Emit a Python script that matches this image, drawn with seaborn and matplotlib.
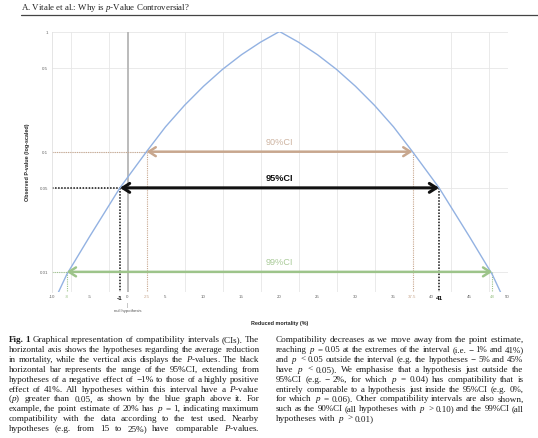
import matplotlib
matplotlib.use("Agg")
import matplotlib.pyplot as plt
import seaborn as sns
import numpy as np
from matplotlib.lines import Line2D
from matplotlib.ticker import MultipleLocator, NullLocator

# ---------------- data ----------------
curve_x = [-10, -8, -5, -1, 2.5, 5, 7.5, 10, 12.5, 15, 17.5, 20,
           22.5, 25, 27.5, 30, 32.5, 35, 37.5, 41, 45, 48, 50]
curve_p = [0.0051, 0.0095, 0.0196, 0.05, 0.10, 0.161, 0.243, 0.350, 0.484, 0.641, 0.815, 1.0,
           0.815, 0.641, 0.484, 0.350, 0.243, 0.161, 0.10, 0.05, 0.0196, 0.0095, 0.0051]

ci_labels = ["90%CI", "95%CI", "99%CI"]
ci_lower = [2.5, -1, -8]
ci_upper = [37.5, 41, 48]
ci_p = [0.10, 0.05, 0.01]

x_ticks = [-10, -8, -5, -1, 0, 2.5, 5, 10, 15, 20, 25, 30, 35, 37.5, 40, 41, 45, 48, 50]
x_tick_labels = ["-10", "-8", "-5", "-1", "0", "2.5", "5", "10", "15", "20", "25", "30",
                 "35", "37.5", "40", "41", "45", "48", "50"]
y_ticks = [0.01, 0.05, 0.1, 0.5, 1]
y_tick_labels = ["0.01", "0.05", "0.1", "0.5", "1"]

header = "A. Vitale et al.: Why is $p$-Value Controversial?"
caption_left = [
    "Fig. 1 Graphical representation of compatibility intervals (CIs). The",
    "horizontal axis shows the hypotheses regarding the average reduction",
    "in mortality, while the vertical axis displays the $P$-values. The black",
    "horizontal bar represents the range of the 95%CI, extending from",
    "hypotheses of a negative effect of \u22121% to those of a highly positive",
    "effect of 41%. All hypotheses within this interval have a $P$-value",
    "($p$) greater than 0.05, as shown by the blue graph above it. For",
    "example, the point estimate of 20% has $p$ = 1, indicating maximum",
    "compatibility with the data according to the test used. Nearby",
    "hypotheses (e.g. from 15 to 25%) have comparable $P$-values.",
]
caption_right = [
    "Compatibility decreases as we move away from the point estimate,",
    "reaching $p$ = 0.05 at the extremes of the interval (i.e. \u2212 1% and 41%)",
    "and $p$ < 0.05 outside the interval (e.g. the hypotheses \u2212 5% and 45%",
    "have $p$ < 0.05). We emphasise that a hypothesis just outside the",
    "95%CI (e.g. \u2212 2%, for which $p$ = 0.04) has compatibility that is",
    "entirely comparable to a hypothesis just inside the 95%CI (e.g. 0%,",
    "for which $p$ = 0.06). Other compatibility intervals are also shown,",
    "such as the 90%CI (all hypotheses with $p$ > 0.10) and the 99%CI (all",
    "hypotheses with $p$ > 0.01)",
]

# ---------------- styles ----------------
W, H = 538, 439
sns.set_style("white")
plt.rcParams["font.family"] = ["Liberation Sans", "DejaVu Sans"]
plt.rcParams["mathtext.fontset"] = "custom"
plt.rcParams["mathtext.rm"] = "Liberation Serif"
plt.rcParams["mathtext.it"] = "Liberation Serif:italic"
plt.rcParams["mathtext.bf"] = "Liberation Serif:bold"

ci_colors = ["#c8a78e", "#111111", "#9dc48a"]
ci_text_colors = ["#cdb3a0", "#111111", "#aacb99"]
ci_lw = [1.8, 2.2, 1.8]
curve_color = "#93b2e2"

fig = plt.figure(figsize=(W / 100, H / 100), dpi=100)
fig.patch.set_facecolor("white")

left_px, right_px, top_px, bot_px = 51.5, 507.5, 32.5, 293
ax = fig.add_axes([left_px / W, 1 - bot_px / H, (right_px - left_px) / W, (bot_px - top_px) / H])
ax.set_yscale("log")
ax.set_xlim(-10, 50)
ax.set_ylim(0.0068, 1.0)

# grid
ax.xaxis.set_minor_locator(MultipleLocator(2.5))
ax.yaxis.set_minor_locator(NullLocator())
ax.grid(which="minor", axis="x", color="#e6e6e6", lw=0.6)
ax.grid(which="major", axis="y", color="#e6e6e6", lw=0.6)
ax.grid(which="major", axis="x", visible=False)
ax.set_axisbelow(True)
for s in ["top", "right", "bottom"]:
    ax.spines[s].set_visible(False)
ax.spines["left"].set_color("#e0e0e0")
ax.spines["left"].set_linewidth(0.6)

# null hypothesis line
ax.axvline(0, color="#b5b5b5", lw=1.3, zorder=1)

# curve
sns.lineplot(x=curve_x, y=curve_p, ax=ax, color=curve_color, lw=1.0, zorder=3)

# dotted guide lines
y_bottom = ax.get_ylim()[0]
for lo, hi, p, c in zip(ci_lower, ci_upper, ci_p, ci_colors):
    lw = 1.1 if c == "#111111" else 0.8
    ax.plot([-10, lo], [p, p], ls=(0, (1, 1)), color=c, lw=lw, zorder=2)
    ax.plot([lo, lo], [p, y_bottom], ls=(0, (1, 1)), color=c, lw=lw, zorder=2)
    ax.plot([hi, hi], [p, y_bottom], ls=(0, (1, 1)), color=c, lw=lw, zorder=2)

# arrows and labels
for lab, lo, hi, p, c, tc, lw in zip(ci_labels, ci_lower, ci_upper, ci_p, ci_colors, ci_text_colors, ci_lw):
    ax.annotate("", xy=(lo, p), xytext=(hi, p),
                arrowprops=dict(arrowstyle="<->,head_length=0.5,head_width=0.32",
                                color=c, lw=lw, shrinkA=0, shrinkB=0), zorder=4)
    bold = lab == "95%CI"
    ax.annotate(lab, xy=((lo + hi) / 2, p), xytext=(0, 7.2), textcoords="offset points",
                ha="center", va="center", fontsize=6.6, color=tc,
                fontweight="bold" if bold else "normal", zorder=5)

# ticks
ax.set_xticks(x_ticks)
ax.set_xticklabels(x_tick_labels)
ax.set_yticks(y_ticks)
ax.set_yticklabels(y_tick_labels)
ax.tick_params(axis="both", which="both", length=0, labelsize=3.2, labelcolor="#666666")
ax.tick_params(axis="x", pad=1.8)
ax.tick_params(axis="y", pad=2.5)
for t in ax.get_xticklabels():
    txt = t.get_text()
    if txt in ("2.5", "37.5"):
        t.set_color("#c8a78e")
    elif txt in ("-8", "48"):
        t.set_color("#9dc48a")
    elif txt in ("-1", "41"):
        t.set_color("#111111")
        t.set_fontweight("bold")
        t.set_fontsize(4.6)

ax.set_ylabel("Observed P-value (log-scaled)", fontsize=3.9, fontweight="bold", labelpad=7)
ax.set_xlabel("Reduced mortality (%)", fontsize=3.9, fontweight="bold", labelpad=15)

ax.annotate("|", xy=(0, 0), xycoords=("data", "axes fraction"), xytext=(0, -9),
            textcoords="offset points", ha="center", va="center", fontsize=3.5, color="#888888")
ax.annotate("null hypothesis", xy=(0, 0), xycoords=("data", "axes fraction"), xytext=(0, -13),
            textcoords="offset points", ha="center", va="center", fontsize=3.1, color="#555555")

# ---------------- header and caption ----------------
fig.text(21 / W, 1 - 10.5 / H, header, family="Liberation Serif", fontsize=6.4,
         color="#222222", va="baseline", ha="left")
fig.add_artist(Line2D([21 / W, 1.0], [1 - 15.5 / H] * 2, color="#444444", lw=0.9))

renderer = fig.canvas.get_renderer()
cap_size = 6.6


def draw_line(text, x0, x1, y, justify, bold_first=0):
    words = text.split(" ")
    size = cap_size
    for _ in range(8):
        objs = []
        for i, wd in enumerate(words):
            t = fig.text(0, 0, wd, family="Liberation Serif", fontsize=size,
                         fontweight="bold" if i < bold_first else "normal",
                         color="#1a1a1a", va="baseline", ha="left")
            objs.append(t)
        widths = [t.get_window_extent(renderer).width for t in objs]
        total = sum(widths)
        min_gap = size * 0.24 * 100 / 72
        if total + min_gap * (len(objs) - 1) <= (x1 - x0) or not justify:
            break
        for t in objs:
            t.remove()
        size *= 0.97
    if justify and len(objs) > 1:
        gap = (x1 - x0 - total) / (len(objs) - 1)
    else:
        gap = size * 0.25 * 100 / 72
    x = x0
    for t, w in zip(objs, widths):
        t.set_position((x / W, 1 - y / H))
        x += w + gap


line_h = 9.9
for i, ln in enumerate(caption_left):
    draw_line(ln, 8.5, 259.5, 342 + i * line_h, True, bold_first=2 if i == 0 else 0)
for i, ln in enumerate(caption_right):
    draw_line(ln, 276, 523.5, 342 + i * line_h, i < len(caption_right) - 1)

fig.savefig("out.png", dpi=100, facecolor="white")
